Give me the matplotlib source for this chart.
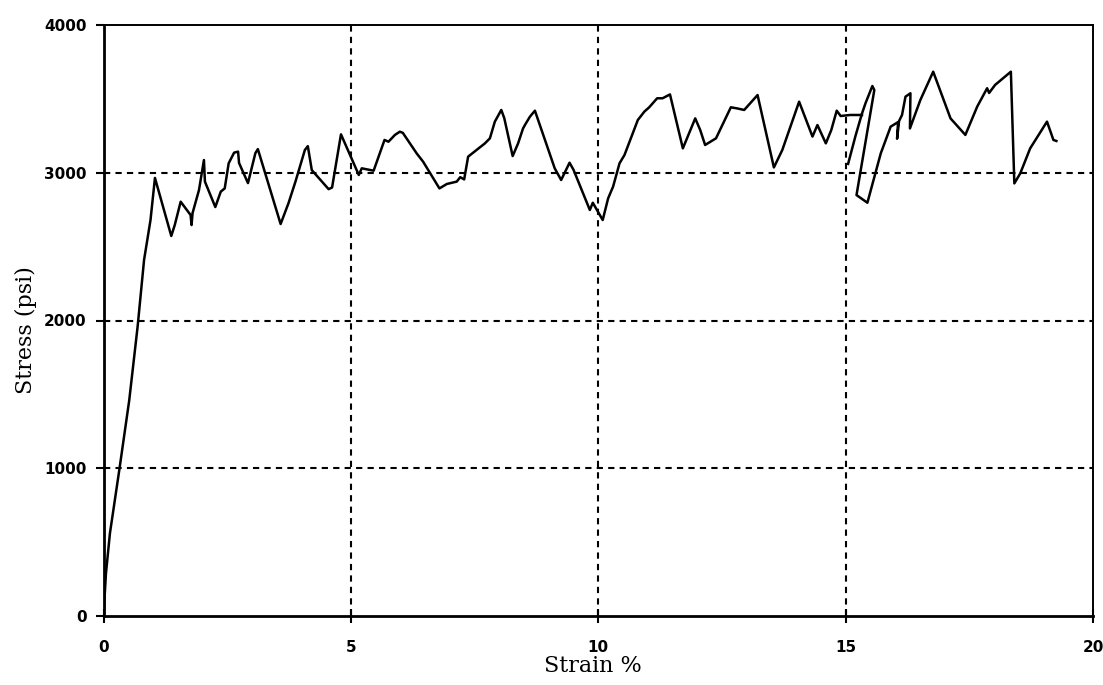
import numpy as np
import matplotlib
matplotlib.use("Agg")
import matplotlib.pyplot as plt

# Strain (%) and stress (psi); nan = pen lift
strain = [0.0, 0.05, 0.13, 0.32, 0.52, 0.69, 0.82, 0.95, 1.04, 1.37, 1.44, 1.56,
          1.76, 1.78, 1.80, 1.93, 2.03, 2.05, 2.26, 2.37, 2.45, 2.53, 2.64, 2.72,
          2.74, 2.92, 3.07, 3.12, 3.58, 3.74, 3.88, 4.07, 4.13, 4.21, 4.55, 4.62,
          4.80, 5.16, 5.22, 5.46, 5.68, 5.76, 5.89, 5.99, 6.05, 6.33, 6.46, 6.79,
          6.94, 7.14, 7.21, 7.29, 7.37, 7.54, 7.71, 7.81, 7.91, 8.04, 8.10, 8.27,
          8.38, 8.48, 8.53, 8.62, 8.72, 9.12, 9.25, 9.42, 9.50, 9.83, 9.89, 10.09,
          10.20, 10.30, 10.43, 10.53, 10.80, 10.93, 11.03, 11.19, 11.30, 11.45,
          11.71, 11.96, 12.06, 12.16, 12.38, 12.68, 12.80, 12.95, 13.22, 13.55,
          13.72, 14.06, 14.33, 14.43, 14.60, 14.71, 14.82, 14.90, 15.09, 15.33,
          np.nan,
          15.05, 15.20, 15.33, 15.40, 15.54, 15.58, 15.22, 15.44, 15.71, 15.91,
          16.06, 16.04, 16.08, 16.14, 16.21, 16.31, 16.30, 16.51, 16.77, 17.12,
          17.42, 17.66, 17.86, 17.90, 18.02, 18.34, 18.41, 18.53, 18.73, 19.07,
          19.20, 19.26]
stress = [0, 290, 560, 990, 1460, 1960, 2410, 2680, 2965, 2572, 2646, 2804,
          2714, 2646, 2727, 2883, 3086, 2940, 2768, 2872, 2894, 3064, 3136, 3143,
          3066, 2930, 3133, 3160, 2653, 2795, 2940, 3154, 3180, 3018, 2889, 2900,
          3260, 2985, 3030, 3014, 3222, 3210, 3256, 3278, 3270, 3131, 3075, 2894,
          2924, 2940, 2970, 2955, 3109, 3154, 3199, 3233, 3346, 3425, 3370, 3113,
          3199, 3300, 3330, 3380, 3420, 3030, 2951, 3068, 3020, 2748, 2797, 2680,
          2827, 2906, 3064, 3120, 3357, 3413, 3443, 3504, 3504, 3530,
          3165, 3368, 3290, 3188, 3233, 3443, 3436, 3425, 3526, 3036,
          3154, 3481, 3245, 3323, 3199, 3289, 3420, 3384, 3391, 3391,
          np.nan,
          3060, 3250, 3400, 3469, 3587, 3560, 2849, 2797, 3131, 3312,
          3343, 3230, 3350, 3391, 3515, 3538, 3300, 3492, 3684, 3368,
          3256, 3448, 3572, 3540, 3594, 3684, 2928, 2996, 3165, 3346,
          3222, 3215]

x_ticks = [0, 5, 10, 15, 20]
y_ticks = [0, 1000, 2000, 3000, 4000]
x_grid = [5, 10, 15]
y_grid = [1000, 2000, 3000]

W, H = 1103, 685
fig = plt.figure(figsize=(W / 100, H / 100), dpi=100)
ax = fig.add_axes([103.5 / W, 1 - 616 / H, (1093 - 103.5) / W, (616 - 25) / H])

for gx in x_grid:
    ax.axvline(gx, color="black", lw=1.5, ls=(0, (3, 2.5)), zorder=1)
for gy in y_grid:
    ax.axhline(gy, color="black", lw=1.5, ls=(0, (3, 2.5)), zorder=1)

ax.plot(strain, stress, color="black", lw=1.8, zorder=3, solid_joinstyle="round")

ax.set_xlim(0, 20)
ax.set_ylim(0, 4000)
ax.set_xticks(x_ticks)
ax.set_yticks(y_ticks)
ax.set_xticklabels([str(v) for v in x_ticks], fontsize=11, fontweight="bold",
                   family="DejaVu Sans")
ax.set_yticklabels([str(v) for v in y_ticks], fontsize=11, fontweight="bold",
                   family="DejaVu Sans")
ax.tick_params(axis="x", direction="inout", length=10, width=1.5, pad=12)
ax.tick_params(axis="y", direction="out", length=6, width=1.5, pad=6)

for side, lw in (("left", 2.0), ("bottom", 2.0), ("top", 1.4), ("right", 1.4)):
    ax.spines[side].set_linewidth(lw)
    ax.spines[side].set_color("black")

ax.set_xlabel("Strain %", fontsize=16, family="DejaVu Serif", labelpad=0)
ax.set_ylabel("Stress (psi)", fontsize=16, family="DejaVu Serif")
ax.yaxis.set_label_coords(-0.067, 0.484)
ax.xaxis.set_label_coords(0.495, -0.066)

fig.savefig("out.png", dpi=100)
